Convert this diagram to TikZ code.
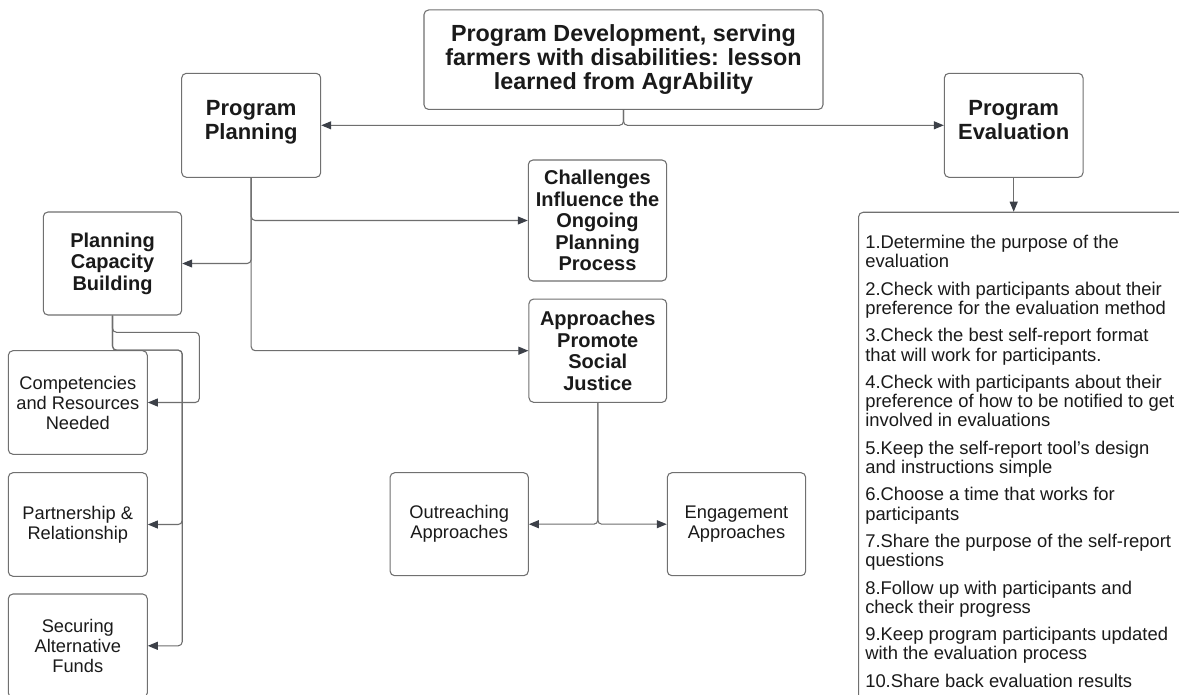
\documentclass[tikz,border=0pt]{standalone}
\usepackage{fontspec}
\setmainfont{Liberation Sans}
\usetikzlibrary{arrows.meta,calc}
\definecolor{boxc}{HTML}{707070}
\definecolor{linec}{HTML}{6E6E6E}
\definecolor{tipc}{HTML}{3C4048}
\definecolor{txt}{HTML}{1A1A1A}
\begin{document}
\begin{tikzpicture}[x=0.75pt,y=-0.75pt,
  box/.style={draw=boxc,line width=0.8pt,rounded corners=3.5pt,fill=white,inner sep=0pt,align=center,text=txt},
  sz/.style 2 args={minimum width=#1*0.75pt,minimum height=#2*0.75pt},
  titlef/.style={font=\fontsize{17.5pt}{18pt}\selectfont\bfseries},
  bigf/.style={font=\fontsize{16.5pt}{18.2pt}\selectfont\bfseries},
  boldf/.style={font=\fontsize{15pt}{16.2pt}\selectfont\bfseries},
  regf/.style={font=\fontsize{13.7pt}{15pt}\selectfont},
  listf/.style={font=\fontsize{13.8pt}{14.4pt}\selectfont},
  conn/.style={draw=linec,line width=0.8pt,rounded corners=3pt,-{Triangle[length=7.5pt,width=6pt,color=tipc]}}
]
\clip (0,0) rectangle (1179,694);
\fill[white] (0,0) rectangle (1179,694);

\node[box,titlef,sz={399}{99.5}] (title) at (623.5,59.7)
  {Program Development, serving\\farmers with disabilities: lesson\\learned from AgrAbility};
\node[box,bigf,sz={139}{104}] (PP) at (251.2,125.3) {Program\\Planning\rule[-8pt]{0pt}{0pt}};
\node[box,bigf,sz={138.7}{104}] (PE) at (1013.7,125.3) {Program\\Evaluation\rule[-8pt]{0pt}{0pt}};
\node[box,boldf,sz={138.4}{103}] (PCB) at (112.5,263.5) {Planning\\Capacity\\Building};
\node[box,boldf,sz={138.4}{121}] (CH) at (597.5,220.5) {Challenges\\Influence the\\Ongoing\\Planning\\Process};
\node[box,boldf,sz={137.7}{103.3}] (AP) at (597.8,350.7) {Approaches\\Promote\\Social\\Justice};
\node[box,regf,sz={139}{103.6}] (CO) at (77.8,402.5) {Competencies\\and Resources\\Needed};
\node[box,regf,sz={139}{103.6}] (PA) at (77.8,524.5) {Partnership \&\\Relationship};
\node[box,regf,sz={139}{103.6}] (SE) at (77.8,645.8) {Securing\\Alternative\\Funds};
\node[box,regf,sz={138.3}{103}] (OU) at (459.2,524.2) {Outreaching\\Approaches};
\node[box,regf,sz={138.4}{103}] (EN) at (736.5,524.2) {Engagement\\Approaches};
\node[box,sz={400}{600},anchor=north west] (LB) at (858,211.7) {};
\node[listf,text=txt,align=left,anchor=north west,inner sep=0pt] (LT) at (865,235) {%
1.Determine the purpose of the\\evaluation\\[6.15pt]
2.Check with participants about their\\preference for the evaluation method\\[6.15pt]
3.Check the best self-report format\\that will work for participants.\\[6.15pt]
4.Check with participants about their\\preference of how to be notified to get\\involved in evaluations\\[6.15pt]
5.Keep the self-report tool’s design\\and instructions simple\\[6.15pt]
6.Choose a time that works for\\participants\\[6.15pt]
7.Share the purpose of the self-report\\questions\\[6.15pt]
8.Follow up with participants and\\check their progress\\[6.15pt]
9.Keep program participants updated\\with the evaluation process\\[6.15pt]
10.Share back evaluation results};

\coordinate (v1) at (199.3,332.3);
\coordinate (v2) at (PCB.east |- CO.north);

\draw[conn] (title.south) |- (PP.east);
\draw[conn] (title.south) |- (PE.west);
\draw[conn] (PE.south) -- (PE.south |- LB.north);
\draw[conn] (PP.south) |- (CH.west);
\draw[conn] (PP.south) |- (PCB.east);
\draw[conn] (PP.south) |- (AP.west);
\draw[conn] (PCB.south) |- (v1) |- (CO.east);
\draw[conn] (PCB.south) |- (v2) |- (PA.east);
\draw[conn] (PCB.south) |- (v2) |- (SE.east);
\draw[conn] (AP.south) |- (OU.east);
\draw[conn] (AP.south) |- (EN.west);
\end{tikzpicture}
\end{document}
